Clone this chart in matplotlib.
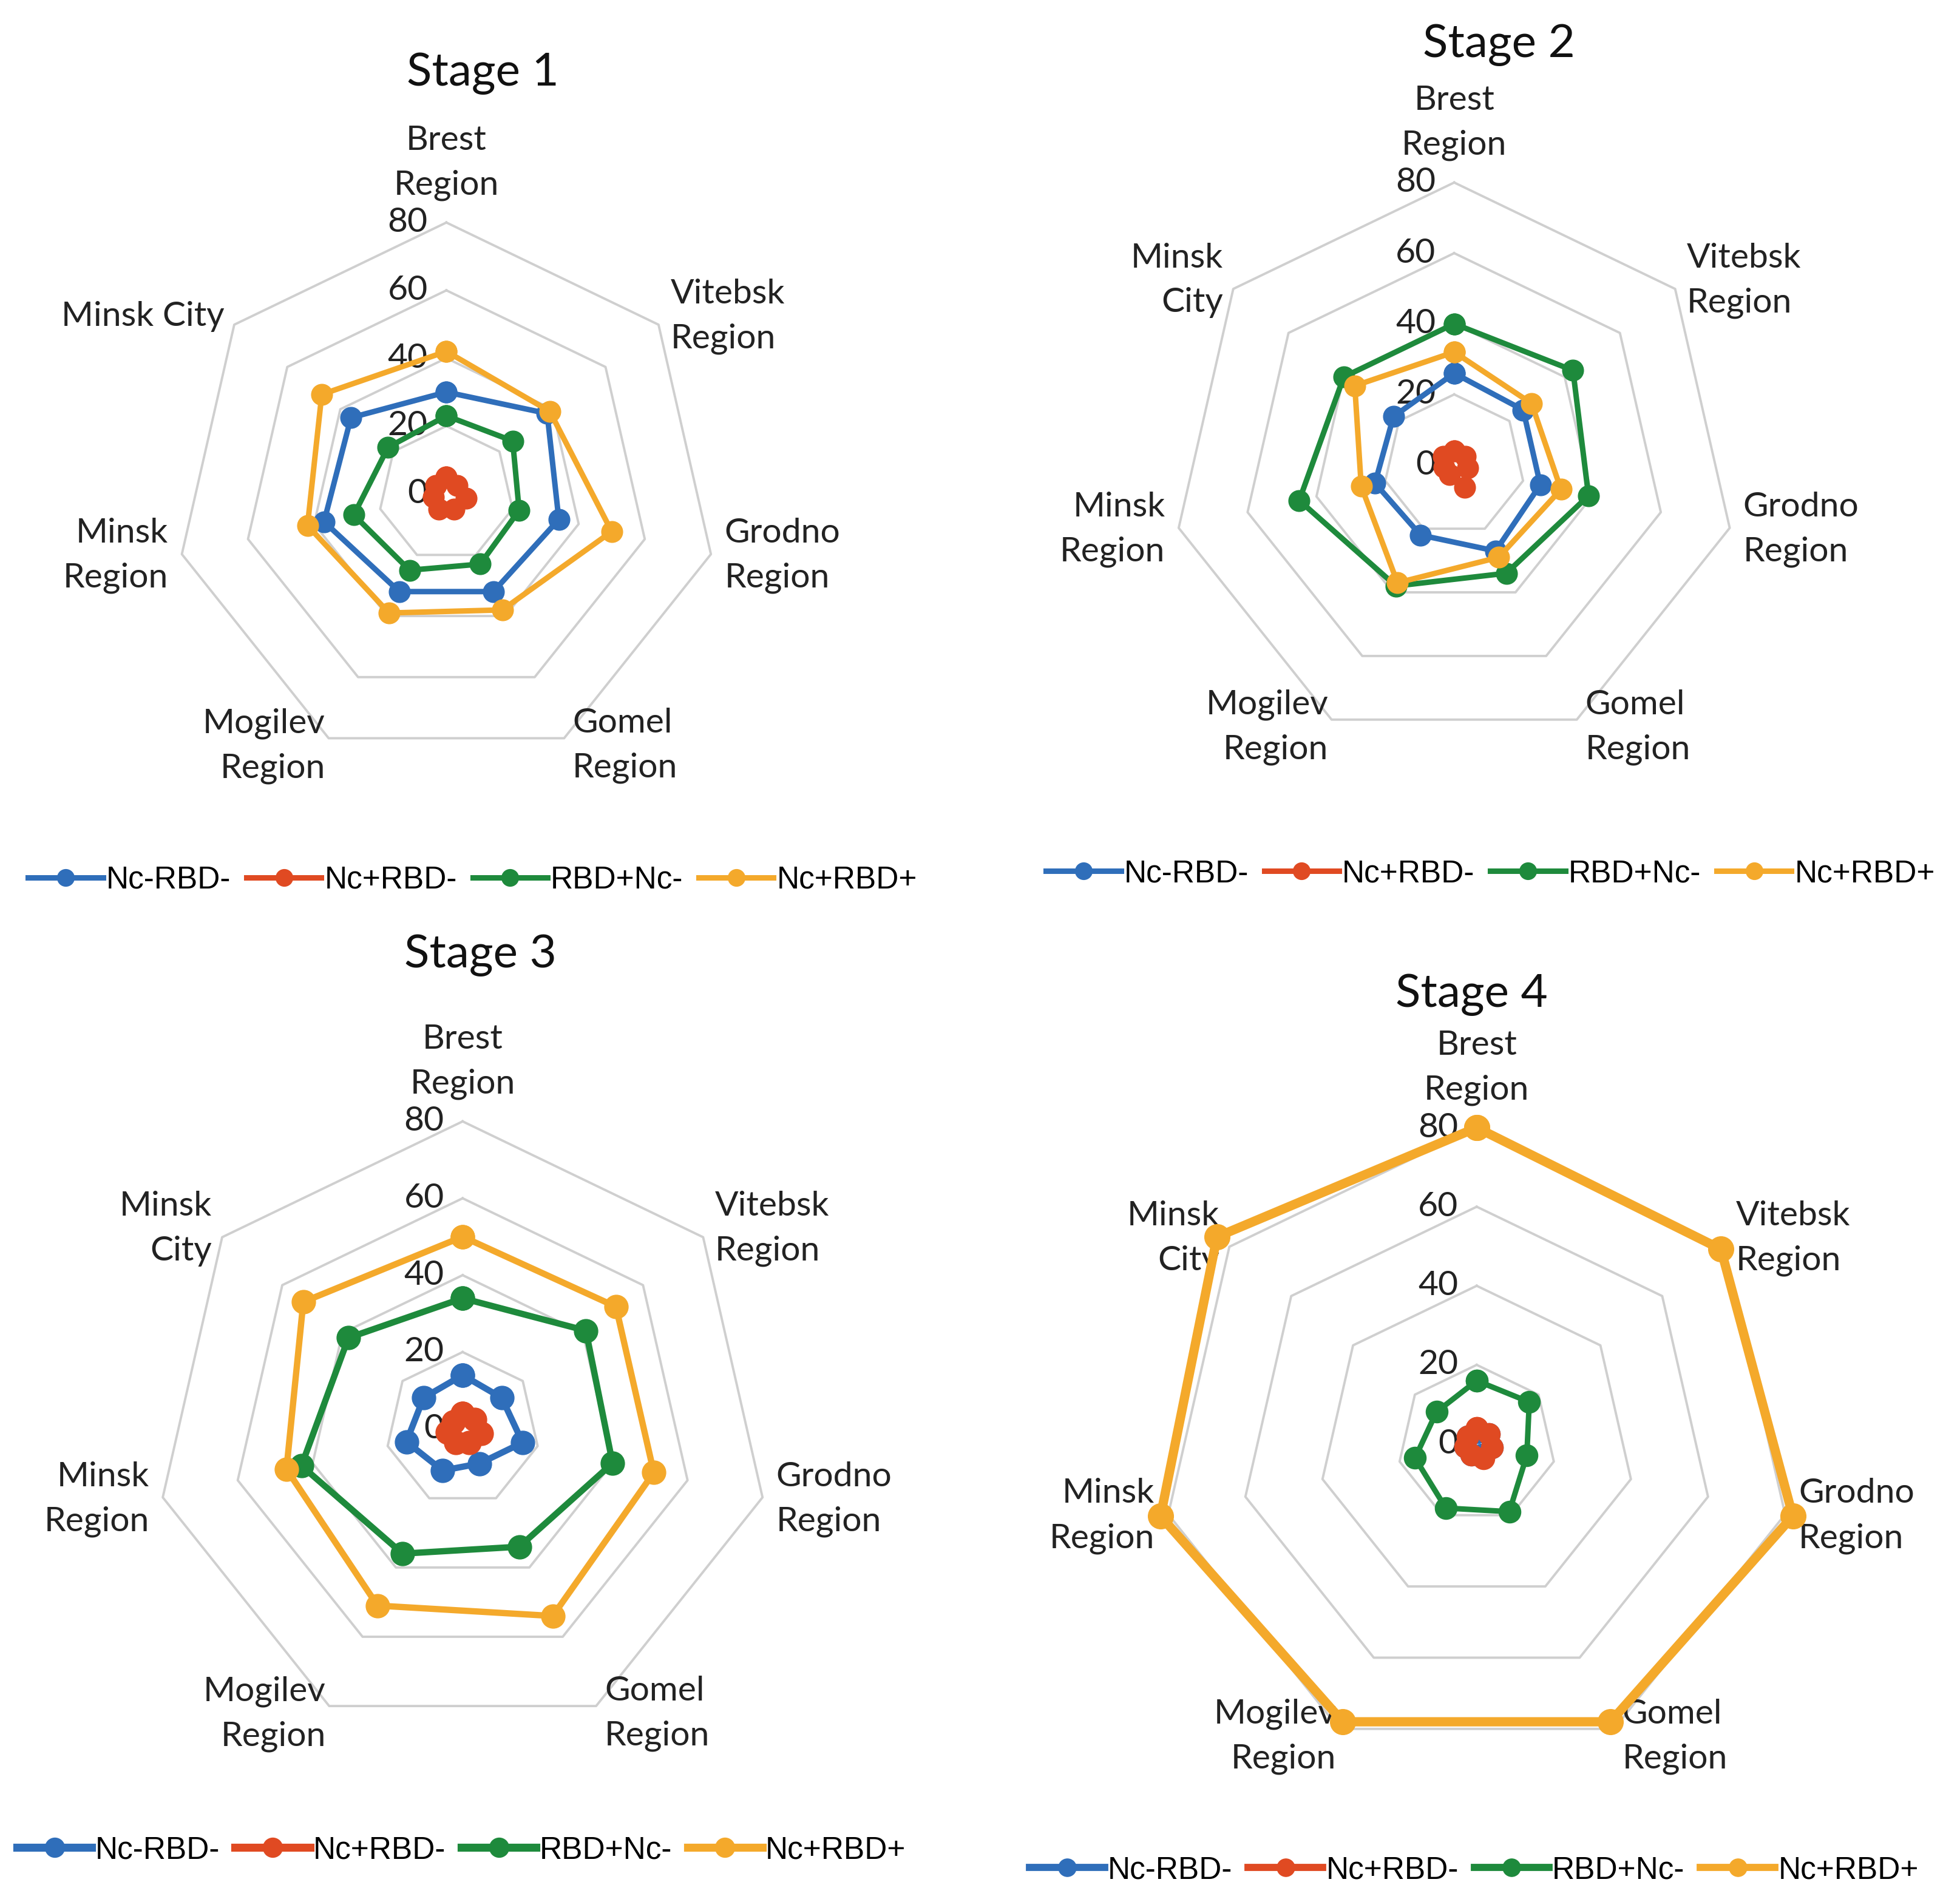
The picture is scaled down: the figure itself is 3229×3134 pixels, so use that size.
import numpy as np
import matplotlib.pyplot as plt
from matplotlib.lines import Line2D

# region axes, clockwise from the top
regions = ["Brest\nRegion", "Vitebsk\nRegion", "Grodno\nRegion", "Gomel\nRegion",
           "Mogilev\nRegion", "Minsk\nRegion", "Minsk\nCity"]
series_names = ["Nc-RBD-", "Nc+RBD-", "RBD+Nc-", "Nc+RBD+"]
ring_ticks = [0, 20, 40, 60, 80]

# values, order = regions above
s1_nc_rbd_neg = [30, 38, 34, 32, 32, 37, 36]
s1_nc_pos_rbd_neg = [5, 4, 6, 5, 5, 4, 4]
s1_rbd_pos_nc_neg = [23, 25, 22, 23, 25, 28, 22]
s1_nc_rbd_pos = [42, 39, 50, 38, 39, 42, 47]

s2_nc_rbd_neg = [26, 25, 25, 27, 22, 23, 22]
s2_nc_pos_rbd_neg = [4, 4, 4, 7, 3, 3, 4]
s2_rbd_pos_nc_neg = [40, 43, 39, 34, 38, 45, 40]
s2_nc_rbd_pos = [32, 28, 31, 29, 37, 27, 36]

s3_nc_rbd_neg = [14, 13, 16, 10, 12, 15, 13]
s3_nc_pos_rbd_neg = [4, 4, 5, 4, 4, 4, 3]
s3_rbd_pos_nc_neg = [34, 41, 40, 34, 36, 43, 38]
s3_nc_rbd_pos = [50, 51, 51, 54, 51, 47, 53]

s4_nc_rbd_neg = [3, 4, 4, 3, 3, 3, 3]
s4_nc_pos_rbd_neg = [4, 4, 4, 4, 3, 3, 3]
s4_rbd_pos_nc_neg = [16, 17, 13, 19, 18, 16, 13]
s4_nc_rbd_pos = [80, 79, 82, 78, 78, 82, 84]

colors = ["#2F6EBA", "#E04A22", "#1E8A3C", "#F4A92B"]
gray = "#CFCFCF"

W, H = 3230, 3134
fig = plt.figure(figsize=(W / 100, H / 100), dpi=100)

label_font = "Lato"
legend_font = ["Liberation Sans Narrow", "Liberation Sans"]

# positions taken from the 1568 px wide view, scaled up
SC = W / 1568
panels = [
    dict(title="Stage 1", cx=357, cy=395, r=217, tx=386, ty=59, ly=704, lx=378,
         data=[s1_nc_rbd_neg, s1_nc_pos_rbd_neg, s1_rbd_pos_nc_neg, s1_nc_rbd_pos],
         lw=6.5, ms=25, city_one_line=True),
    dict(title="Stage 2", cx=1163, cy=372, r=226, tx=1199, ty=36, ly=699, lx=1192,
         data=[s2_nc_rbd_neg, s2_nc_pos_rbd_neg, s2_rbd_pos_nc_neg, s2_nc_rbd_pos],
         lw=6.5, ms=25, city_one_line=False),
    dict(title="Stage 3", cx=370, cy=1143, r=246, tx=384, ty=764, ly=1480, lx=369,
         data=[s3_nc_rbd_neg, s3_nc_pos_rbd_neg, s3_rbd_pos_nc_neg, s3_nc_rbd_pos],
         lw=7.5, ms=28, city_one_line=False),
    dict(title="Stage 4", cx=1181, cy=1155, r=253, tx=1177, ty=796, ly=1496, lx=1179,
         data=[s4_nc_rbd_neg, s4_nc_pos_rbd_neg, s4_rbd_pos_nc_neg, s4_nc_rbd_pos],
         lw=6.5, ms=26, city_one_line=False),
]

n = len(regions)
theta = np.arange(n) * 2 * np.pi / n
theta_closed = np.append(theta, theta[0])

# label offsets (points) from the 80-ring vertex, with alignment
lab_pos = [
    (0, 26, "center", "bottom"),
    (14, 10, "left", "center"),
    (16, -2, "left", "center"),
    (10, 36, "left", "top"),
    (-4, 36, "right", "top"),
    (-16, -2, "right", "center"),
    (-12, 10, "right", "center"),
]

for p in panels:
    cx, cy, r = p["cx"] * SC, p["cy"] * SC, p["r"] * SC
    ax = fig.add_axes([(cx - r) / W, 1 - (cy + r) / H, 2 * r / W, 2 * r / H], projection="polar")
    ax.set_theta_zero_location("N")
    ax.set_theta_direction(-1)
    ax.set_ylim(0, 80)
    ax.grid(False)
    ax.spines["polar"].set_visible(False)
    ax.set_xticks([])
    ax.set_yticks([])
    ax.patch.set_alpha(0)

    # polygon gridlines
    for v in ring_ticks[1:]:
        ax.plot(theta_closed, [v] * (n + 1), color=gray, lw=2.8, zorder=1, clip_on=False)
    for v in ring_ticks:
        ax.annotate(str(v), xy=(0, v), xytext=(-22, 0), textcoords="offset points",
                    ha="right", va="center", fontsize=41, family=label_font, color="#222222",
                    annotation_clip=False, zorder=2)

    for i, vals in enumerate(p["data"]):
        vv = np.append(vals, vals[0])
        lw, ms = p["lw"], p["ms"]
        if p["title"] == "Stage 4" and i == 3:
            lw, ms = 11, 30
        ax.plot(theta_closed, vv, color=colors[i], lw=lw, marker="o", ms=ms,
                clip_on=False, zorder=3 + i)

    for k, name in enumerate(regions):
        if name == "Minsk\nCity" and p["city_one_line"]:
            name = "Minsk City"
        dx, dy, ha, va = lab_pos[k]
        ax.annotate(name, xy=(theta[k], 80), xytext=(dx, dy), textcoords="offset points",
                    ha=ha, va=va, fontsize=41, family=label_font, color="#222222",
                    linespacing=1.55, annotation_clip=False)

    fig.text(p["tx"] * SC / W, 1 - p["ty"] * SC / H, p["title"], ha="center", va="center",
             fontsize=55, family=label_font, color="#111111")

    lw_leg = p["lw"] + 2 if p["title"] in ("Stage 3", "Stage 4") else p["lw"]
    handles = [Line2D([0], [0], color=c, lw=lw_leg, marker="o", ms=p["ms"] - 5) for c in colors]
    fig.legend(handles, series_names, loc="center", ncol=4,
               bbox_to_anchor=(p["lx"] * SC / W, 1 - p["ly"] * SC / H),
               frameon=False, handlelength=2.4, handletextpad=0.1, columnspacing=0.5,
               prop={"family": legend_font, "size": 37})

fig.savefig("out.png", dpi=100, facecolor="white")
